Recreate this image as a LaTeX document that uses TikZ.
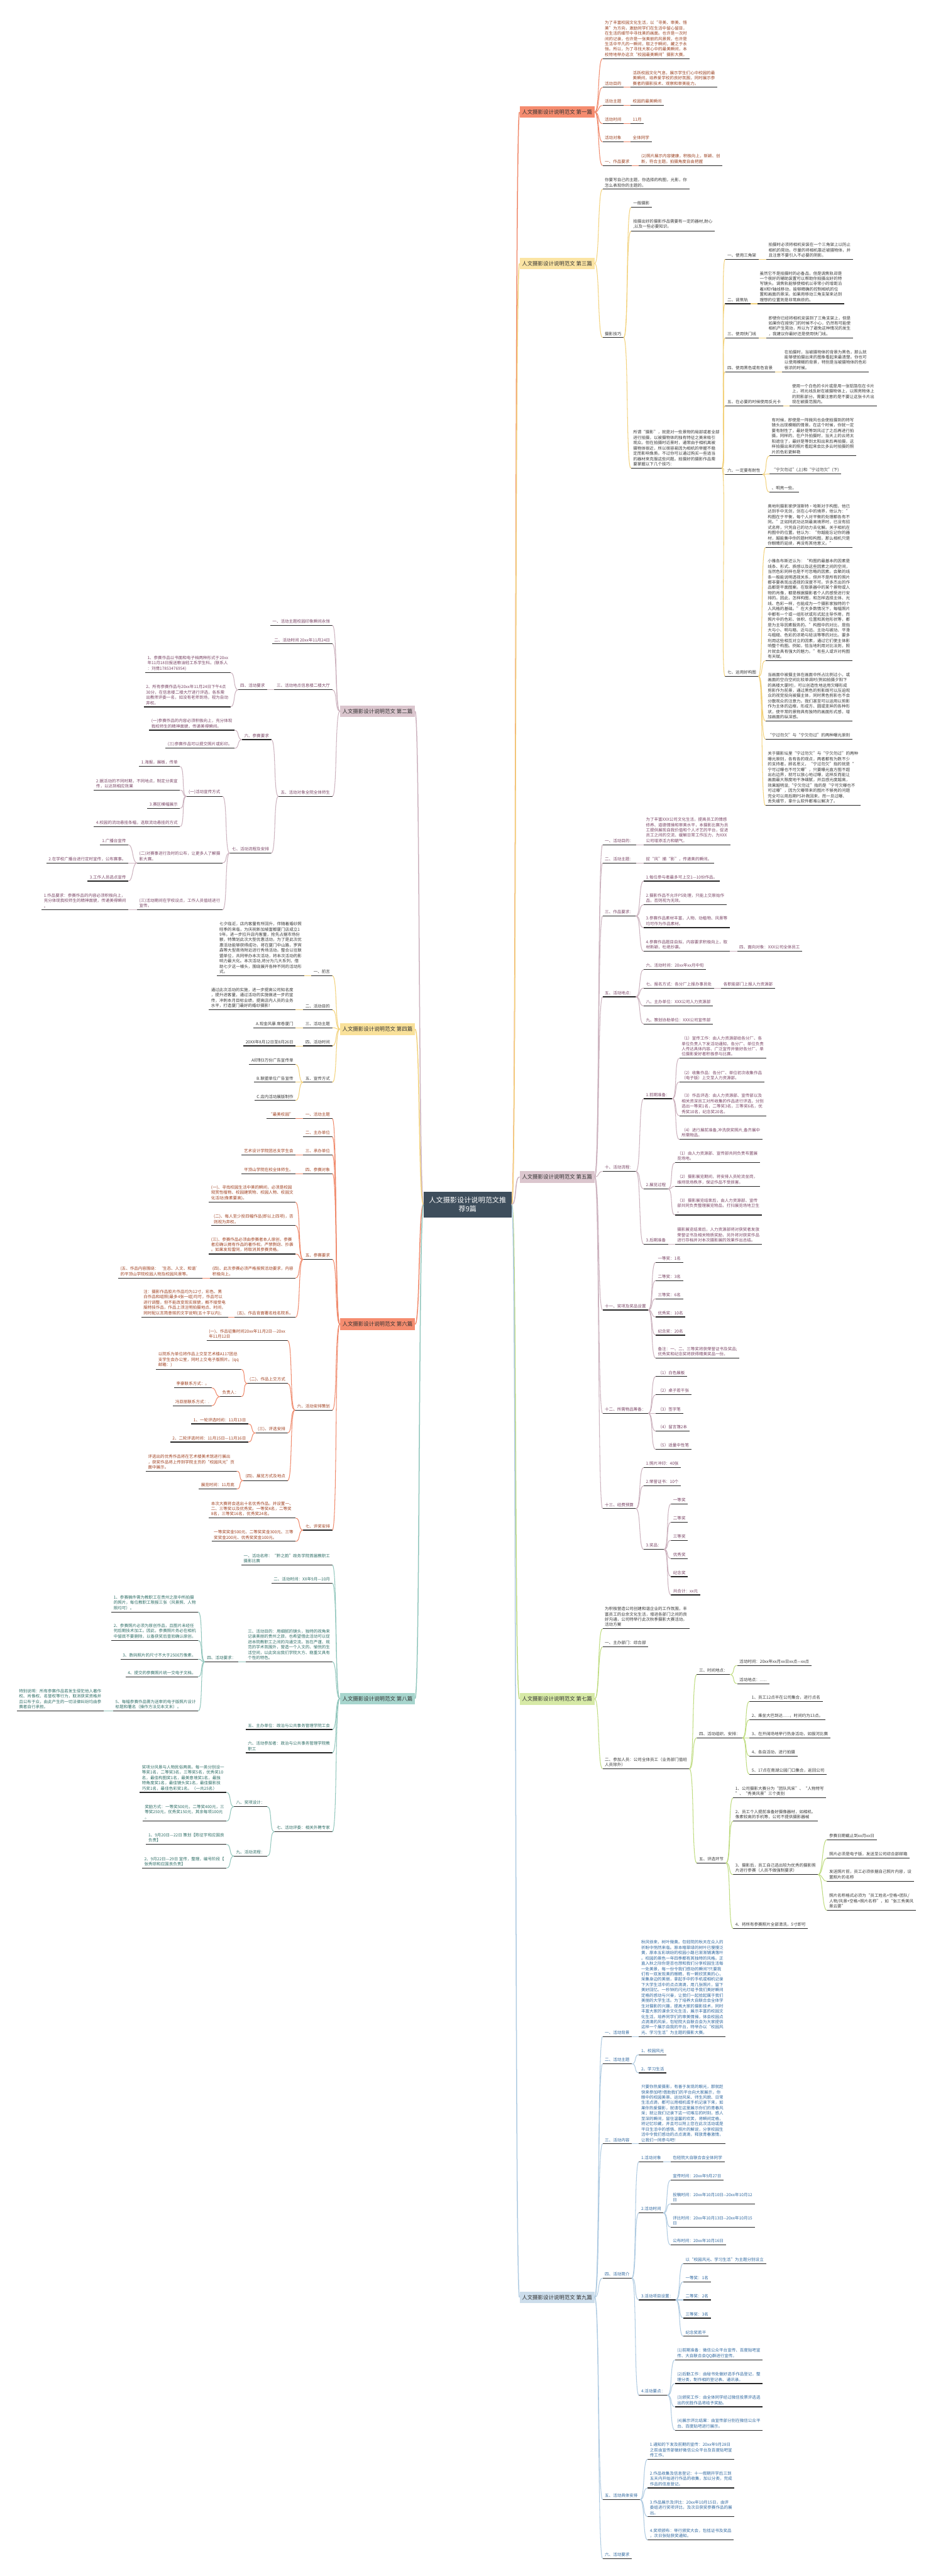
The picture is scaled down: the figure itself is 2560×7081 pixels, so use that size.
\documentclass[tikz,border=0pt]{standalone}
\usepackage{fontspec}
\setmainfont{Noto Sans CJK SC}
\usetikzlibrary{positioning,calc}

\definecolor{hubbg}{HTML}{3E4E5C}
\definecolor{fill1}{HTML}{F58C6F}\definecolor{edge1}{HTML}{F08A6C}\definecolor{ink1}{HTML}{9C4221}
\definecolor{fill3}{HTML}{FBE4A3}\definecolor{edge3}{HTML}{F3D27C}\definecolor{ink3}{HTML}{3A3A3A}
\definecolor{fill5}{HTML}{DBC6CE}\definecolor{edge5}{HTML}{CDB3BF}\definecolor{ink5}{HTML}{7A4565}
\definecolor{fill7}{HTML}{D6E9A6}\definecolor{edge7}{HTML}{BFDC80}\definecolor{ink7}{HTML}{3A3A3A}
\definecolor{fill9}{HTML}{CCDDEB}\definecolor{edge9}{HTML}{AFCBE2}\definecolor{ink9}{HTML}{2F68A0}
\definecolor{fill2}{HTML}{DBC6CE}\definecolor{edge2}{HTML}{CDB3BF}\definecolor{ink2}{HTML}{7A4565}
\definecolor{fill4}{HTML}{F9E19A}\definecolor{edge4}{HTML}{F3D27C}\definecolor{ink4}{HTML}{3A3A3A}
\definecolor{fill6}{HTML}{F58C6F}\definecolor{edge6}{HTML}{F08A6C}\definecolor{ink6}{HTML}{A0401F}
\definecolor{fill8}{HTML}{A7D5CD}\definecolor{edge8}{HTML}{92C7BD}\definecolor{ink8}{HTML}{2E6E66}

\begin{document}
\begin{tikzpicture}[x=0.5pt,y=-0.5pt,
    leaf/.style={inner xsep=3pt,inner ysep=2.6pt,align=left,
      font=\fontsize{5.65}{7.3}\selectfont,
      append after command={(\tikzlastnode.south west) edge[draw=black!85,line width=1pt] (\tikzlastnode.south east)}},
    rn/.style={leaf,anchor=south west},
    ln/.style={leaf,anchor=south east},
    r1/.style={rn,text=ink1}, r3/.style={rn,text=ink3}, r5/.style={rn,text=ink5},
    r7/.style={rn,text=ink7}, r9/.style={rn,text=ink9},
    l2/.style={ln,text=ink2}, l4/.style={ln,text=ink4}, l6/.style={ln,text=ink6}, l8/.style={ln,text=ink8},
    pian/.style={minimum width=103pt,minimum height=16pt,inner sep=0pt,text=black!80,
      font=\fontsize{7.3}{9}\selectfont},
    hub/.style={fill=hubbg,text=white,minimum width=121pt,minimum height=35pt,align=center,
      font=\fontsize{9.65}{12.5}\selectfont},
    rc/.style={line width=0.9pt,to path={.. controls +(14,0) and +(-14,0) .. (\tikztotarget)}},
    lc/.style={line width=0.9pt,to path={.. controls +(-14,0) and +(14,0) .. (\tikztotarget)}}
  ]
  \fill[white] (0,0) rectangle (2560,7081);
  \useasboundingbox (0,0) rectangle (2560,7081);

  % centre and the nine parts
  \node[hub] (root) at (1286,3311) {人文摄影设计说明范文推\\荐9篇};
  \node[pian,fill=fill1] (pian1) at (1532,308) {人文摄影设计说明范文 第一篇};
  \node[pian,fill=fill3] (pian3) at (1532,724) {人文摄影设计说明范文 第三篇};
  \node[pian,fill=fill5] (pian5) at (1532,3235) {人文摄影设计说明范文 第五篇};
  \node[pian,fill=fill7] (pian7) at (1532,4670) {人文摄影设计说明范文 第七篇};
  \node[pian,fill=fill9] (pian9) at (1532,6315) {人文摄影设计说明范文 第九篇};
  \node[pian,fill=fill2] (pian2) at (1038,1955) {人文摄影设计说明范文 第二篇};
  \node[pian,fill=fill4] (pian4) at (1038,2829) {人文摄影设计说明范文 第四篇};
  \node[pian,fill=fill6] (pian6) at (1038,3640) {人文摄影设计说明范文 第六篇};
  \node[pian,fill=fill8] (pian8) at (1038,4669) {人文摄影设计说明范文 第八篇};
  \foreach \p/\k in {pian1/edge1,pian3/edge3,pian5/edge5,pian7/edge7,pian9/edge9}
    \draw[rc,line width=1.3pt,draw=\k] (root.east) to (\p.west);
  \foreach \p/\k in {pian2/edge2,pian4/edge4,pian6/edge6,pian8/edge8}
    \draw[lc,line width=1.3pt,draw=\k] (root.west) to (\p.east);

  % part one
  \node[r1] (a1) at (1657,161) {为了丰富校园文化生活，以“寻美、审美、悟\\美”为方向，激励同学们在生活中留心留目，\\在生活的细节中寻找美的画面。也许是一次时\\间的记录，也许是一张美丽的风景照，也许是\\生活中平凡的一瞬间，取之于瞬间，藏之于永\\恒。所以，为了寻找大家心中的最美瞬间，本\\校特地举办这次“校园最美瞬间”摄影大赛。};
  \node[r1] (a2) at (1657,240) {活动目的};
  \node[r1] (a2x) at (1734,240) {活跃校园文化气息，展示学生们心中校园的最\\美瞬间，培养爱学校的良好氛围，同时展示参\\赛者的摄影技术、观察和审美能力。};
  \node[r1] (a3) at (1657,290) {活动主题};
  \node[r1] (a3x) at (1734,290) {校园的最美瞬间};
  \node[r1] (a4) at (1657,340) {活动时间};
  \node[r1] (a4x) at (1734,340) {11月};
  \node[r1] (a5) at (1657,390) {活动对象};
  \node[r1] (a5x) at (1734,390) {全体同学};
  \node[r1] (a6) at (1657,455) {一、作品要求};
  \node[r1] (a6x) at (1757,455) {(2)照片展示内容健康，积极向上，新颖、创\\新，符合主题。拍摄角度自由把握};
  \foreach \b in {a1,a2,a3,a4,a5,a6} \draw[rc,draw=edge1] (pian1.east) to (\b.south west);
  \foreach \a/\b in {a2/a2x,a3/a3x,a4/a4x,a5/a5x,a6/a6x}
    \draw[rc,draw=edge1] (\a.south east) to (\b.south west);

  % part three
  \node[r3] (c1) at (1657,520) {你要写自己的主题，你选择的构图，光影，你\\怎么表现你的主题的。};
  \node[r3] (c2) at (1657,928) {摄影技巧};
  \node[r3] (c2a) at (1735,570) {一般摄影};
  \node[r3] (c2b) at (1735,635) {拍摄出好的摄影作品需要有一定的器材,耐心\\,以及一些必要知识。};
  \node[r3] (c2c) at (1735,1287) {所谓“摄影”，就是对一些景物的局部或者全部\\进行拍摄，以被摄物体的独有特征之美来吸引\\观众。但在拍摄时近景时，通常由于相机离被\\摄物体很近，所以很容易因为相机的举握不稳\\定而影响像质。不过你可以通过购买一些适当\\的器材来克服这些问题。拍摄好的摄影作品需\\要掌握以下几个技巧：};
  \node[r3] (c3) at (1994,713) {一、使用三角架};
  \node[r3] (c3x) at (2107,713) {拍摄时必须将相机安装在一个三角架上以防止\\相机的晃动。尽量的将相机靠近被摄物体，并\\且注意不要引入不必要的阴影。};
  \node[r3] (c4) at (1994,835) {二、调焦轨};
  \node[r3] (c4x) at (2083,835) {虽然它不是拍摄时的必备品，但是调焦轨却是\\一个很好的辅助装置可以帮助你拍摄出好的特\\写镜头。调焦轨能够使相机以非常小的增距沿\\着X和Y轴线移动，能够精确的控制相机的位\\置和画面的景深。如果用移动三角支架来达到\\理想的位置则是非常麻烦的。};
  \node[r3] (c5) at (1994,929) {三、使用快门线};
  \node[r3] (c5x) at (2107,929) {即使你已经将相机安装到了三角支架上，但是\\如果你在按快门的时候不小心，仍然有可能使\\相机产生晃动，所以为了避免这种情况的发生\\，我建议你最好还是使用快门线。};
  \node[r3] (c6) at (1994,1022) {四、使用黑色或有色背景};
  \node[r3] (c6x) at (2151,1022) {在拍摄时，当被摄物体的背景为黑色，那么就\\能够使拍摄出来的图象看起来最清楚。你也可\\以使用模糊的背景，特别是当被摄物体的色彩\\很浓的时候。};
  \node[r3] (c7) at (1994,1116) {五、在必要的时候使用反光卡};
  \node[r3] (c7x) at (2172,1116) {使用一个白色的卡片或是用一张铝箔包在卡片\\上，将光线反射在被摄物体上，以照亮物体上\\的阴影部分。需要注意的是不要让这张卡片出\\现在被摄范围内。};
  \node[r3] (c8) at (1994,1304) {六、一定要有耐性};
  \node[r3] (c8a) at (2116,1253) {有时候，即使是一阵微风也会使拍摄到的特写\\镜头出现模糊的情景。在这个时候，你就一定\\要有耐性了，最好是等到风过了之后再进行拍\\摄。同样的，在户外拍摄时，当天上的云将太\\阳遮住了，最好是等到太阳出来后再拍摄，这\\样拍摄出来的照片看起来会比多云时拍摄的照\\片的色彩更鲜艳};
  \node[r3] (c8b) at (2116,1303) {“宁欠勿过”(上)和“宁过勿欠”(下)};
  \node[r3] (c8c) at (2116,1353) {、明亮一些。};
  \node[r3] (c9) at (1994,1859) {七、运用好构图};
  \node[r3] (c9a) at (2105,1505) {奥地利摄影家伊涅斯特·哈斯对于构图，他已\\达到手中无剑，剑在心中的境界，他认为：”\\构图在于平衡，每个人对平衡的处理都各有不\\同。”正如同武功达到最高境界时，已没有招\\式名称，只凭自己的功力去化解。关于相机在\\构图中的位置。他认为：“你越能忘记你的器\\材，越能集中你的题材和构图，那么相机只是\\你眼睛的延续，再没有其他意义。”};
  \node[r3] (c9b) at (2105,1816) {小雅各布斯还认为：“构图的最基本的因素是\\线条、形式、质感以及这些因素之间的空间，\\当然色彩同样也是不可忽略的因素。会聚的线\\条一般能说明透视关系，但并不是所有的照片\\都非要表现出透视的深度不可。许多杰出的作\\品都是平面图案。在取景器中的某个景物或人\\物的肖像，都是根据摄影者个人的感受进行安\\排的。因此，怎样构图，和怎样选择主体、光\\线、色彩一样，也能成为一个摄影家独特的个\\人风格的基础。”在大多数情况下，每幅照片\\中都有一个或一组形状或形式起主导作用，而\\照片中的色彩、体积、位置和其他形状等，都\\是为主导因素服务的。”构图中的对比，是指\\大与小、明与暗、近与远、主动与被动、平滑\\与粗糙、色彩的浓艳与轻淡等等的对比。要多\\利用这些相互对立的因素，通过它们使主体影\\响整个构图。例如，恰当地利用对比法则，照\\片就会具有强大的魅力。”有些人或许对构图\\有天赋。};
  \node[r3] (c9c) at (2105,1982) {当画面中被摄主体在画面中所占比例过小，或\\画面的空白空间比较单调时(例如拍摄夕阳下\\的高楼大厦时)，可以创造性地运用欠曝形成\\剪影作为前景，通过黑色的剪影既可以压迫观\\众的视觉投向被摄主体，同时黑色剪影也不会\\分散观众的注意力。我们甚至可以运用以剪影\\作为主体的边框，形成方、圆或变异的各种形\\状，使平常的景物具有独特的画面形式感，增\\加画面的纵深感。};
  \node[r3] (c9d) at (2105,2032) {“宁过勿欠”与“宁欠勿过”的两种曝光原则};
  \node[r3] (c9e) at (2105,2214) {关于摄影坛里“宁过勿欠”与“宁欠勿过”的两种\\曝光原则，各有各的观点，两者都有为数不少\\的支持者。顾名思义，“宁过勿欠”指的就是“\\宁可过曝也不可欠曝”，只要曝光直方图不超\\出右边界，就可以放心地过曝，这样反而能让\\画面最大限度地干净细腻，并且感光度越高，\\效果越明显;“宁欠勿过”指的是“宁可欠曝也不\\可过曝”，因为欠曝带来的图片不够亮的问题\\完全可以用后期PS补救回来，而一旦过曝、\\丢失细节，拿什么软件都难以解决了。};
  \foreach \b in {c1,c2} \draw[rc,draw=edge3] (pian3.east) to (\b.south west);
  \foreach \a/\b in {c2/c2a,c2/c2b,c2/c2c,c2c/c3,c2c/c4,c2c/c5,c2c/c6,c2c/c7,c2c/c8,c2c/c9,
      c3/c3x,c4/c4x,c5/c5x,c6/c6x,c7/c7x,c8/c8a,c8/c8b,c8/c8c,c9/c9a,c9/c9b,c9/c9c,c9/c9d,c9/c9e}
    \draw[rc,draw=edge3] (\a.south east) to (\b.south west);

  % part five
  \node[r5] (e1) at (1657,2322) {一、活动目的：};
  \node[r5] (e1x) at (1770,2322) {为了丰富XXX公司文化生活，提高员工的情感\\修养、道德情操和审美水平，本摄影比赛为员\\工提供展现自我价值和个人才艺的平台，促进\\员工之间的交流、缓解日常工作压力，为XXX\\公司增添活力和朝气。};
  \node[r5] (e2) at (1657,2372) {二、活动主题：};
  \node[r5] (e2x) at (1770,2372) {捉“风”捕“影”，传递美的瞬间。};
  \node[r5] (e3) at (1657,2518) {三、作品要求：};
  \node[r5] (e3a) at (1770,2422) {1.每位参与者最多可上交1—10份作品。};
  \node[r5] (e3b) at (1770,2487) {2.摄影作品不允许PS处理，只能上交原始作\\品，否则视为无效。};
  \node[r5] (e3c) at (1770,2550) {3.参赛作品素材丰富，人物、动植物、风景等\\均可作为作品素材。};
  \node[r5] (e3d) at (1770,2615) {4.参赛作品题目自拟，内容要求积极向上，取\\材新颖，杜绝抄袭。};
  \node[r5] (e3dx) at (2027,2615) {四、面向对象：XXX公司全体员工};
  \node[r5] (e4) at (1657,2740) {五、活动地点：};
  \node[r5] (e4a) at (1770,2665) {六、活动时间：20xx年xx月中旬};
  \node[r5] (e4b) at (1770,2716) {七、报名方式：各分厂上报办事员处};
  \node[r5] (e4bx) at (1983,2716) {各职能部门上报人力资源部};
  \node[r5] (e4c) at (1770,2765) {八、主办单位：XXX公司人力资源部};
  \node[r5] (e4d) at (1770,2815) {九、策划协助单位：XXX公司宣传部};
  \node[r5] (e5) at (1657,3220) {十、活动流程：};
  \node[r5] (e5a) at (1770,3020) {1.前期准备：};
  \node[r5] (e5a1) at (1868,2909) {（1）宣传工作：由人力资源部给各分厂、各\\单位负责人下发活动通知，各分厂、单位负责\\人传达具体内容、广泛宣传并做好各分厂、单\\位摄影爱好者积极参与比赛。};
  \node[r5] (e5a2) at (1868,2974) {（2）收集作品：各分厂、单位初次收集作品\\（电子版）上交至人力资源部。};
  \node[r5] (e5a3) at (1868,3067) {（3）作品评选：由人力资源部、宣传部以及\\相关资深员工对所收集的作品进行评选，分别\\选出一等奖1名，二等奖3名，三等奖6名，优\\秀奖10名，纪念奖20名。};
  \node[r5] (e5a4) at (1868,3132) {（4）进行展前准备,冲洗获奖照片,备齐展中\\所需物品。};
  \node[r5] (e5b) at (1770,3268) {2.展览过程};
  \node[r5] (e5b1) at (1856,3196) {（1）由人力资源部、宣传部共同负责布置展\\览场地。};
  \node[r5] (e5b2) at (1856,3261) {（2）摄影展览期间，将安排人员轮流坐岗，\\维持现场秩序，保证作品不受损害。};
  \node[r5] (e5b3) at (1856,3340) {（3）摄影展览结束后，由人力资源部、宣传\\部共同负责整理展览物品，打扫展览场地卫生\\。};
  \node[r5] (e5c) at (1770,3420) {3.后期准备};
  \node[r5] (e5cx) at (1856,3420) {摄影展览结束后，人力资源部将对获奖者发放\\荣誉证书及相关物质奖励，另外将对获奖作品\\进行存档并对本次摄影展的效果作出总结。};
  \node[r5] (e6) at (1657,3601) {十一、奖项及奖品设置};
  \foreach \nm/\y/\t in {e6a/3470/一等奖：1名,e6b/3520/二等奖：3名,e6c/3570/三等奖：6名,
      e6d/3620/优秀奖：10名,e6e/3670/纪念奖：20名}
    \node[r5] (\nm) at (1803,\y) {\t};
  \node[r5] (e6f) at (1803,3733) {备注：一、二、三等奖将获荣誉证书及奖品;\\优秀奖和纪念奖将获得精美奖品一份。};
  \node[r5] (e7) at (1657,3885) {十二、所需物品筹备：};
  \foreach \nm/\y/\t in {e7a/3784/（1）白色展板,e7b/3834/（2）桌子若干张,e7c/3885/（3）签字笔,
      e7d/3934/（4）留言簿2本,e7e/3984/（5）适量中性笔}
    \node[r5] (\nm) at (1803,\y) {\t};
  \node[r5] (e8) at (1657,4147) {十三、经费预算};
  \node[r5] (e8a) at (1770,4034) {1.照片冲印：40张};
  \node[r5] (e8b) at (1770,4084) {2.荣誉证书：10个};
  \node[r5] (e8c) at (1770,4259) {3.奖品：};
  \foreach \nm/\y/\t in {e8c1/4134/一等奖,e8c2/4184/二等奖,e8c3/4234/三等奖,
      e8c4/4284/优秀奖,e8c5/4334/纪念奖,e8c6/4384/共合计：xx元}
    \node[r5] (\nm) at (1845,\y) {\t};
  \foreach \b in {e1,e2,e3,e4,e5,e6,e7,e8} \draw[rc,draw=edge5] (pian5.east) to (\b.south west);
  \foreach \a/\b in {e1/e1x,e2/e2x,e3/e3a,e3/e3b,e3/e3c,e3/e3d,e3d/e3dx,e4/e4a,e4/e4b,e4b/e4bx,
      e4/e4c,e4/e4d,e5/e5a,e5/e5b,e5/e5c,e5a/e5a1,e5a/e5a2,e5a/e5a3,e5a/e5a4,e5b/e5b1,e5b/e5b2,
      e5b/e5b3,e5c/e5cx,e6/e6a,e6/e6b,e6/e6c,e6/e6d,e6/e6e,e6/e6f,e7/e7a,e7/e7b,e7/e7c,e7/e7d,
      e7/e7e,e8/e8a,e8/e8b,e8/e8c,e8c/e8c1,e8c/e8c2,e8c/e8c3,e8c/e8c4,e8c/e8c5,e8c/e8c6}
    \draw[rc,draw=edge5] (\a.south east) to (\b.south west);

  % part seven
  \node[r7] (g1) at (1657,4477) {为积极营造公司创建和谐企业的工作氛围，丰\\富员工的业余文化生活，增进各部门之间的良\\好沟通，公司特举行此次秋季摄影大赛活动。\\活动方案};
  \node[r7] (g2) at (1657,4527) {一、主办部门：综合部};
  \node[r7] (g3) at (1657,4862) {二、参加人员：公司全体员工（业务部门值班\\人员除外）};
  \node[r7] (g3a) at (1916,4603) {三、时间地点：};
  \node[r7] (g3a1) at (2027,4578) {活动时间：20xx年xx月xx日xx点—xx点};
  \node[r7] (g3a2) at (2027,4628) {活动地点：......};
  \node[r7] (g3b) at (1916,4777) {四、活动组织、安排：};
  \node[r7] (g3b1) at (2061,4677) {1、员工12点半在公司集合，进行点名};
  \node[r7] (g3b2) at (2061,4727) {2、乘坐大巴到达......，时间约为13点。};
  \node[r7] (g3b3) at (2061,4777) {3、在开阔场地举行热身活动，如拔河比赛};
  \node[r7] (g3b4) at (2061,4827) {4、各自活动，进行拍摄};
  \node[r7] (g3b5) at (2061,4877) {5、17点在南湖公园门口集合，返回公司};
  \node[r7] (g3c) at (1916,5121) {五、评选环节};
  \node[r7] (g3c1) at (2016,4942) {1、公司摄影大赛分为“团队风采”、“人物特写\\”、“秀美风景”三个类别};
  \node[r7] (g3c2) at (2016,5006) {2、员工个人提前准备好摄像器材，如相机、\\像素较高的手机等，公司不提供摄影器械};
  \node[r7] (g3c3) at (2016,5153) {3、摄影后，员工自己选出较为优秀的摄影照\\片进行参赛（人员不做强制要求）};
  \node[r7] (g3c3a) at (2274,5057) {参赛日期截止到xx月xx日};
  \node[r7] (g3c3b) at (2274,5108) {照片必须是电子版，发送至公司综合部邮箱};
  \node[r7] (g3c3c) at (2274,5171) {发送照片前，员工必须依据自己照片内容，设\\置照片的名称};
  \node[r7] (g3c3d) at (2274,5251) {照片名称格式必须为“员工姓名+空格+团队/\\人物/风景+空格+照片名称”，如“张三秀美风\\景云雾”};
  \node[r7] (g3c4) at (2016,5301) {4、将所有参赛照片全部清洗，5寸即可};
  \foreach \b in {g1,g2,g3} \draw[rc,draw=edge7] (pian7.east) to (\b.south west);
  \foreach \a/\b in {g3/g3a,g3/g3b,g3/g3c,g3a/g3a1,g3a/g3a2,g3b/g3b1,g3b/g3b2,g3b/g3b3,g3b/g3b4,
      g3b/g3b5,g3c/g3c1,g3c/g3c2,g3c/g3c3,g3c/g3c4,g3c3/g3c3a,g3c3/g3c3b,g3c3/g3c3c,g3c3/g3c3d}
    \draw[rc,draw=edge7] (\a.south east) to (\b.south west);

  % part nine
  \node[r9] (i1) at (1657,5598) {一、活动背景};
  \node[r9] (i1x) at (1757,5598) {秋风徐来，树叶微黄。包轻院的秋天在众人的\\祈盼中悄然来临。原本暗翠绿的树叶已慢慢泛\\黄，原本五彩缤纷的校园小路已渐渐铺满落叶\\。校园的景色一年四季都有其独特的风格。正\\直入秋之际你是否也想和我们分享校园生活每\\一处美景，每一份令我们感动的瞬间?只要我\\们有一双发现美的眼睛，有一颗欣赏美的心，\\采集身边的美丽，拿起手中的手机或相机记录\\下大学生活中的点点滴滴，用几张照片，留下\\美好回忆。一秒钟的闪光灯给予我们美好瞬间\\定格的感动与兴奋，让我们一起拾起属于我们\\美丽的大学生活。为了培养大自联合会全体学\\生对摄影的兴趣，提高大家的摄影技术，同时\\丰富大家的课余文化生活，展示丰富的校园文\\化生活，培养同学们的审美情操，体会校园点\\点滴滴的风采，包轻院大自联合会为大家提供\\这样一个展示自我的平台，特举办以“校园风\\光、学习生活”为主题的摄影大赛。};
  \node[r9] (i2) at (1657,5673) {二、活动主题};
  \node[r9] (i2a) at (1757,5648) {1、校园风光};
  \node[r9] (i2b) at (1757,5698) {2、学习生活};
  \node[r9] (i3) at (1657,5893) {三、活动内容};
  \node[r9] (i3x) at (1757,5893) {只要你热爱摄影，有善于发现的眼光，那就赶\\快来参加吧!借助我们的平台向大家展示，你\\眼中的校园美景、运动风采、师生风貌、日常\\生活点滴，都可以用相机或手机记录下来，如\\果你热爱摄影，就请在这里展示你们的青春风\\采；就让我们记录下这一切难忘的时刻，感人\\至深的瞬间，留住温馨的欢笑，将瞬间定格，\\将记忆珍藏，并且可以附上您在此次活动或是\\平日生活中的感悟、照片的解说，分享校园生\\活中令我们感动的点点滴滴，释放青春激情，\\让我们一同参与吧!};
  \node[r9] (i4) at (1657,6262) {四、活动简介};
  \node[r9] (i4a) at (1757,5942) {1.活动对象};
  \node[r9] (i4ax) at (1844,5942) {包轻院大自联合会全体同学};
  \node[r9] (i4b) at (1757,6083) {2.活动时间};
  \node[r9] (i4b1) at (1844,5993) {宣传时间：20xx年9月27日};
  \node[r9] (i4b2) at (1844,6058) {投稿时间：20xx年10月10日-{}-20xx年10月12\\日};
  \node[r9] (i4b3) at (1844,6122) {评比时间：20xx年10月13日-{}-20xx年10月15\\日};
  \node[r9] (i4b4) at (1844,6171) {公布时间：20xx年10月16日};
  \node[r9] (i4c) at (1757,6322) {3.活动项目设置：};
  \foreach \nm/\y/\t in {i4c1/6222/以“校园风光、学习生活”为主题分别设立,i4c2/6272/一等奖：1名,
      i4c3/6322/二等奖：2名,i4c4/6372/三等奖：3名,i4c5/6422/纪念奖若干}
    \node[r9] (\nm) at (1879,\y) {\t};
  \node[r9] (i4d) at (1757,6584) {4.活动要点：};
  \node[r9] (i4d1) at (1856,6487) {(1)前期准备：微信公众平台宣传、百度贴吧宣\\传、大自联合会QQ群进行宣传。};
  \node[r9] (i4d2) at (1856,6552) {(2)后勤工作：由秘书处做好选手作品登记，整\\理分类，制作相的登记表、通讯录。};
  \node[r9] (i4d3) at (1856,6616) {(3)颁奖工作：由全体同学经过微信投票评选选\\出的优胜作品将给予奖励。};
  \node[r9] (i4d4) at (1856,6680) {(4)展示评比结果：由宣传部分别在微信公众平\\台、百度贴吧进行展示。};
  \node[r9] (i5) at (1657,6871) {五、活动具体安排};
  \node[r9] (i5a) at (1781,6760) {1.通知的下发及前期的宣传：20xx年9月28日\\之前由宣传部做好微信公众平台及百度贴吧宣\\传工作。};
  \node[r9] (i5b) at (1781,6839) {2.作品收集及信息登记：十一假期开学后三到\\五天内开始进行作品的收集，加以分类，完成\\作品的信息登记。};
  \node[r9] (i5c) at (1781,6918) {3.作品展示及评比：20xx年10月15日，由评\\委组进行奖项评比，及次日获奖参赛作品的展\\出。};
  \node[r9] (i5d) at (1781,6982) {4.奖项颁布：举行颁奖大会，包括证书及奖品\\，次日张贴获奖通知。};
  \node[r9] (i6) at (1657,7033) {六、活动要求};
  \foreach \b in {i1,i2,i3,i4,i5,i6} \draw[rc,draw=edge9] (pian9.east) to (\b.south west);
  \foreach \a/\b in {i1/i1x,i2/i2a,i2/i2b,i3/i3x,i4/i4a,i4/i4b,i4/i4c,i4/i4d,i4a/i4ax,i4b/i4b1,
      i4b/i4b2,i4b/i4b3,i4b/i4b4,i4c/i4c1,i4c/i4c2,i4c/i4c3,i4c/i4c4,i4c/i4c5,i4d/i4d1,i4d/i4d2,
      i4d/i4d3,i4d/i4d4,i5/i5a,i5/i5b,i5/i5c,i5/i5d}
    \draw[rc,draw=edge9] (\a.south east) to (\b.south west);

  % part two (left)
  \node[l2] (b1) at (914,1719) {一、活动主题校园印象瞬间永恒};
  \node[l2] (b2) at (914,1770) {二、活动时间 20xx年11月24日};
  \node[l2] (b3) at (914,1896) {三、活动地点信息楼二楼大厅};
  \node[l2] (b3a) at (735,1896) {四、活动要求};
  \node[l2] (b3a1) at (634,1849) {1、参赛作品以书面和电子档两种形式于20xx\\年11月18日报送粮油轻工系学生科。(联系人\\：刘倩17853476954)};
  \node[l2] (b3a2) at (634,1943) {2、所有参赛作品与20xx年11月24日下午4点\\30分，在信息楼二楼大厅进行评选，各系需\\出教师评委一名，如没有老师到场，视为自动\\弃权。};
  \node[l2] (b4) at (914,2189) {五、活动对象全院全体师生};
  \node[l2] (b4a) at (746,2033) {六、参赛要求};
  \node[l2] (b4a1) at (645,2007) {(一)参赛作品的内容必须积极向上，充分体现\\我校师生的精神面貌，传递美得瞬间。};
  \node[l2] (b4a2) at (645,2057) {(三)参赛作品可以提交照片或彩印。};
  \node[l2] (b4b) at (746,2345) {七、活动流程及安排};
  \node[l2] (b4b1) at (612,2189) {(一)活动宣传方式};
  \node[l2] (b4b1a) at (495,2107) {1.海报，展板，传单};
  \node[l2] (b4b1b) at (495,2172) {2.据活动的不同时期，不同地点，制定分类宣\\传，以达到相应效果};
  \node[l2] (b4b1c) at (495,2222) {3.赛区横幅展示};
  \node[l2] (b4b1d) at (495,2272) {4.校园的流动悬挂条幅，选取流动悬挂的方式};
  \node[l2] (b4b2) at (612,2372) {(二)对赛事进行及时的公布，让更多人了解摄\\影大赛。};
  \node[l2] (b4b2a) at (353,2322) {1.广播台宣传};
  \node[l2] (b4b2b) at (353,2372) {2.在学校广播台进行定时宣传，公布赛事。};
  \node[l2] (b4b2c) at (353,2422) {3.工作人员选点宣传};
  \node[l2] (b4b3) at (612,2501) {(三)活动期间在学校设点，工作人员值班进行\\宣传。};
  \node[l2] (b4b3x) at (353,2501) {1.作品要求：参赛作品的内容必须积极向上，\\充分体现我校师生的精神面貌，传递美得瞬间\\。};
  \foreach \b in {b1,b2,b3,b4} \draw[lc,draw=edge2] (pian2.west) to (\b.south east);
  \foreach \a/\b in {b3/b3a,b3a/b3a1,b3a/b3a2,b4/b4a,b4/b4b,b4a/b4a1,b4a/b4a2,b4b/b4b1,b4b/b4b2,
      b4b/b4b3,b4b1/b4b1a,b4b1/b4b1b,b4b1/b4b1c,b4b1/b4b1d,b4b2/b4b2a,b4b2/b4b2b,b4b2/b4b2c,b4b3/b4b3x}
    \draw[lc,draw=edge2] (\a.south west) to (\b.south east);

  % part four (left)
  \node[l4] (d1) at (914,2682) {一、前言};
  \node[l4] (d1x) at (836,2682) {七夕临近，店内客量有所回升，伴随着婚纱照\\旺季的来临，为庆祝新加坡富都厦门店成立1\\9年。进一步拉升店内客量，抢先占据市场份\\额，特策划此次大型优惠活动，为了是此次优\\惠活动能够获得成功，将在厦门中山路，罗宾\\森等大型商场附近进行秀场活动。整合以往联\\盟单位，共同举办本次活动，将本次活动的影\\响力最大化。本次活动,将分为几大系列，借\\助七夕这一噱头，围绕展开各种不同的活动形\\式。};
  \node[l4] (d2) at (914,2776) {二、活动目的};
  \node[l4] (d2x) at (813,2776) {通过此次活动的实施，进一步提高公司知名度\\，提升进客量，通过活动的实施做进一步的宣\\传，冲刺本月目标业绩，提高店内人员的业务\\水平，打造厦门最好的婚纱摄影!};
  \node[l4] (d3) at (914,2825) {三、活动主题};
  \node[l4] (d3x) at (813,2825) {A.现金风暴 席卷厦门};
  \node[l4] (d4) at (914,2875) {四、活动时间};
  \node[l4] (d4x) at (813,2875) {20XX年8月12日至8月26日};
  \node[l4] (d5) at (914,2975) {五、宣传方式};
  \node[l4] (d5a) at (813,2926) {A印制3万份广告宣传单};
  \node[l4] (d5b) at (813,2975) {B.联盟单位广告宣传};
  \node[l4] (d5c) at (813,3025) {C.店内活动展版制作};
  \foreach \b in {d1,d2,d3,d4,d5} \draw[lc,draw=edge4] (pian4.west) to (\b.south east);
  \foreach \a/\b in {d1/d1x,d2/d2x,d3/d3x,d4/d4x,d5/d5a,d5/d5b,d5/d5c}
    \draw[lc,draw=edge4] (\a.south west) to (\b.south east);

  % part six (left)
  \node[l6] (f1) at (914,3075) {一、活动主题};
  \node[l6] (f1x) at (813,3075) {“最美校园”};
  \node[l6] (f2) at (914,3125) {二、主办单位};
  \node[l6] (f3) at (914,3175) {三、承办单位};
  \node[l6] (f3x) at (813,3175) {艺术设计学院团总支学生会};
  \node[l6] (f4) at (914,3226) {四、参赛对象};
  \node[l6] (f4x) at (813,3226) {平顶山学院在校全体师生。};
  \node[l6] (f5) at (914,3462) {五、参赛要求};
  \node[l6] (f5a) at (813,3305) {(一)、寻找校园生活中美的瞬间，必须是校园\\观赏性植物、校园建筑物、校园人物、校园文\\化活动(像素要高)。};
  \node[l6] (f5b) at (813,3369) {(二)、每人至少投四幅作品(即以上四项)，否\\则视为弃权。};
  \node[l6] (f5c) at (813,3447) {(三)、参赛作品必须由参赛者本人原创，参赛\\者应确认拥有作品的著作权。严禁剽窃、抄袭\\。如果发现雷同，将取消其参赛资格。};
  \node[l6] (f5d) at (813,3513) {(四)、此次参赛必须严格按照活动要求，内容\\积极向上。};
  \node[l6] (f5dx) at (556,3513) {(五、作品内容围绕：‘生态、人文、和谐’\\的平顶山学院校园人物及校园风景等。};
  \node[l6] (f5e) at (813,3621) {(五)、作品背面署名姓名院系。};
  \node[l6] (f5ex) at (627,3621) {注：摄影作品胶片作品均为12寸，彩色、黑\\白作品和组照(最多4张一组)均可，作品可以\\进行调整，但不能改变现实原貌，概不接受电\\脑特技作品，作品上须注明拍摄地点、时间，\\同时配以言简意赅的文字说明(五十字以内);};
  \node[l6] (f6) at (914,3876) {六、活动安排策划};
  \node[l6] (f6a) at (791,3685) {(一)、作品征集时间20xx年11月2日-{}-{}-20xx\\年11月12日};
  \node[l6] (f6b) at (791,3803) {(二)、作品上交方式};
  \node[l6] (f6b1) at (663,3764) {以院系为单位将作品上交至艺术楼A117团总\\支学生会办公室，同时上交电子版照片。(qq\\邮箱：)};
  \node[l6] (f6b2) at (663,3839) {负责人：};
  \node[l6] (f6b2a) at (582,3815) {李豪联系方式：。};
  \node[l6] (f6b2b) at (582,3864) {冯亚丽联系方式：.};
  \node[l6] (f6c) at (791,3939) {(三)、评选安排};
  \node[l6] (f6c1) at (683,3914) {1、一轮评选时间：11月13日};
  \node[l6] (f6c2) at (683,3964) {2、二轮评选时间：11月15日—11月16日};
  \node[l6] (f6d) at (791,4070) {(四)、展览方式及地点};
  \node[l6] (f6d1) at (651,4044) {评选出的优秀作品将在艺术楼美术馆进行展出\\，获奖作品将上传到学院主页的“校园风光”页\\面中展示。};
  \node[l6] (f6d2) at (651,4093) {展览时间：11月底};
  \node[l6] (f7) at (914,4206) {七、评奖安排};
  \node[l6] (f7a) at (813,4173) {本次大赛将会选出十名优秀作品。并设置一、\\二、三等奖以及优秀奖。一等奖4名，二等奖\\8名，三等奖16名，优秀奖24名。};
  \node[l6] (f7b) at (813,4237) {一等奖奖金500元、二等奖奖金300元、三等\\奖奖金200元、优秀奖奖金100元。};
  \foreach \b in {f1,f2,f3,f4,f5,f6,f7} \draw[lc,draw=edge6] (pian6.west) to (\b.south east);
  \foreach \a/\b in {f1/f1x,f3/f3x,f4/f4x,f5/f5a,f5/f5b,f5/f5c,f5/f5d,f5/f5e,f5d/f5dx,f5e/f5ex,
      f6/f6a,f6/f6b,f6/f6c,f6/f6d,f6b/f6b1,f6b/f6b2,f6b2/f6b2a,f6b2/f6b2b,f6c/f6c1,f6c/f6c2,
      f6d/f6d1,f6d/f6d2,f7/f7a,f7/f7b}
    \draw[lc,draw=edge6] (\a.south west) to (\b.south east);

  % part eight (left)
  \node[l8] (h1) at (914,4302) {一、活动名称：“黔之韵”政务学院首届教职工\\摄影比赛};
  \node[l8] (h2) at (914,4352) {二、活动时间：XX年9月—10月};
  \node[l8] (h3) at (914,4568) {三、活动目的：用细腻的镜头，独特的视角来\\记录美丽的贵州之旅，也希望借此活动可以促\\进本院教职工之间的沟通交流。旨在严谨、规\\范的学术氛围外，营造一个人文的、愉悦的生\\活空间，以此突出我们学院大方、稳重又具有\\个性的特色。};
  \node[l8] (h3a) at (655,4568) {四、活动要求：};
  \node[l8] (h3a1) at (545,4431) {1、参赛稿件需为教职工在贵州之旅中所拍摄\\的照片，每位教职工限报三张（风景照、人物\\照均可）。};
  \node[l8] (h3a2) at (545,4509) {2、参赛照片必须为原创作品，且图片未经任\\何后期技术加工。因此，参赛照片务必在相机\\中留底不要删除，以备获奖后查验确认原创。};
  \node[l8] (h3a3) at (545,4561) {3、数码照片的尺寸不大于2500万像素。};
  \node[l8] (h3a4) at (545,4609) {4、提交的参赛照片统一交电子文档。};
  \node[l8] (h3a5) at (545,4703) {5、每幅参赛作品需为送审的电子版照片设计\\标题和署名（操作方法见本文末）。};
  \node[l8] (h3a5x) at (285,4703) {特别说明：所有参赛作品若发生侵犯他人著作\\权、肖像权、名誉权等行为，取消获奖资格并\\且公布于众，由此产生的一切法律纠纷均由参\\赛者自行承担。};
  \node[l8] (h4) at (914,4754) {五、主办单位：政治与公共事务管理学院工会};
  \node[l8] (h5) at (914,4818) {六、活动参加者：政治与公共事务管理学院教\\职工};
  \node[l8] (h6) at (914,5035) {七、活动评委：相关外聘专家};
  \node[l8] (h6a) at (735,4966) {八、奖项设计：};
  \node[l8] (h6a1) at (623,4927) {奖项分风景与人物民俗两类。每一类分别设一\\等奖1名，二等奖3名，三等奖5名，优秀奖10\\名，最佳构图奖1名，最美意境奖1名，最独\\特角度奖1名，最佳镜头奖1名，最佳摄影技\\巧奖1名，最佳色彩奖1名。（一共25名）};
  \node[l8] (h6a2) at (623,5006) {奖励方式：一等奖500元，二等奖400元，三\\等奖250元，优秀奖150元，其余每项100元\\。};
  \node[l8] (h6b) at (735,5102) {九、活动流程：};
  \node[l8] (h6b1) at (623,5070) {1、9月20日—22日 策划【陈征宇和应国良\\负责】};
  \node[l8] (h6b2) at (623,5135) {2、9月22日—29日 宣传，整理，编号阶段【\\张秀琼和应国良负责】};
  \foreach \b in {h1,h2,h3,h4,h5,h6} \draw[lc,draw=edge8] (pian8.west) to (\b.south east);
  \foreach \a/\b in {h3/h3a,h3a/h3a1,h3a/h3a2,h3a/h3a3,h3a/h3a4,h3a/h3a5,h3a5/h3a5x,h6/h6a,h6/h6b,
      h6a/h6a1,h6a/h6a2,h6b/h6b1,h6b/h6b2}
    \draw[lc,draw=edge8] (\a.south west) to (\b.south east);
\end{tikzpicture}
\end{document}
